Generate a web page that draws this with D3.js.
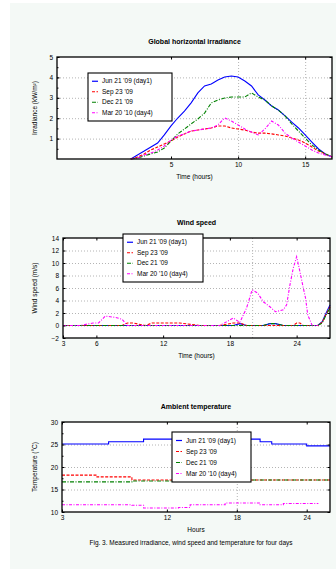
<!DOCTYPE html>
<html>
<head>
<meta charset="utf-8">
<script src="https://cdnjs.cloudflare.com/ajax/libs/d3/7.8.5/d3.min.js"></script>
<style>
  body { margin: 0; background: #fff; }
  text { font-family: "Liberation Sans", Arial, sans-serif; fill: #000; }
  .grid line { stroke: #b4b4b4; stroke-dasharray: 1,2; }
  .grid path { display: none; }
  .axis path { display: none; }
  .axis line { stroke: #000; }
</style>
</head>
<body>
<svg id="chart" width="336" height="578"></svg>
<script>
// legend labels and series styling
const dayLabels = ["Jun 21 '09 (day1)", "Sep 23 '09", "Dec 21 '09", "Mar 20 '10 (day4)"];
const colors = ['#0000ff', '#ff0000', '#008000', '#ff00ff'];
const dashes = [null, '3,1.5', '4,1.5,1,1.5', '3,1.5,1,1.5'];

// panel 1: irradiance
const hours1 = [2, 2.5, 3, 3.5, 4, 4.5, 5, 5.5, 6, 6.5, 7, 7.5, 8, 8.5, 9, 9.5, 10, 10.5, 11, 11.5, 12, 12.5, 13, 13.5, 14, 14.5, 15, 15.5, 16, 16.5, 17];
const irrDay1 = [0, 0.2, 0.39, 0.59, 0.78, 1.18, 1.62, 2.01, 2.35, 2.75, 3.24, 3.58, 3.68, 3.87, 4.02, 4.07, 4.02, 3.82, 3.58, 3.14, 2.89, 2.6, 2.4, 2.11, 1.81, 1.52, 1.18, 0.83, 0.49, 0.25, 0.1];
const irrDay2 = [0, 0.1, 0.25, 0.44, 0.59, 0.74, 0.88, 1.08, 1.23, 1.37, 1.42, 1.47, 1.52, 1.62, 1.62, 1.52, 1.47, 1.42, 1.32, 1.27, 1.27, 1.23, 1.18, 1.13, 1.03, 0.93, 0.78, 0.59, 0.39, 0.25, 0.1];
const irrDay3 = [0, 0.05, 0.15, 0.25, 0.34, 0.54, 0.88, 1.23, 1.47, 1.72, 1.96, 2.25, 2.75, 2.89, 2.99, 3.04, 3.04, 3.04, 3.24, 3.04, 2.89, 2.6, 2.4, 2.11, 1.72, 1.37, 1.03, 0.69, 0.44, 0.25, 0.1];
const irrDay4 = [0, 0.05, 0.2, 0.29, 0.44, 0.64, 0.93, 1.13, 1.23, 1.37, 1.42, 1.47, 1.52, 1.67, 2.01, 1.86, 1.67, 1.47, 1.32, 1.18, 1.47, 1.86, 1.67, 1.27, 1.03, 0.83, 0.64, 0.44, 0.29, 0.2, 0.1];

// panel 2: wind speed
const hours2 = [3, 4.5, 5.7, 6.2, 6.8, 7.7, 8.3, 8.8, 9.3, 10.4, 11, 12.2, 13.5, 15.3, 17.1, 18.3, 18.9, 19.5, 20, 20.5, 21, 21.6, 22.1, 22.8, 23.1, 23.4, 23.7, 24, 24.3, 24.6, 24.8, 25, 25.4, 25.9, 26.3, 26.6, 27];
const windDay1 = [0, 0, 0, 0, 0, 0, 0, 0, 0, 0, 0, 0, 0, 0, 0, 0, 0.3, 0, 0, 0, 0, 0.3, 0.3, 0, 0, 0, 0, 0, 0, 0, 0, 0, 0, 0, 0.6, 1.8, 3.3];
const windDay2 = [0, 0, 0, 0, 0, 0, 0, 0.4, 0.4, 0, 0.4, 0.4, 0.4, 0, 0, 0.4, 0.4, 0, 0, 0, 0, 0, 0, 0, 0, 0, 0, 0.4, 0.4, 0, 0, 0, 0, 0, 0.5, 1.6, 3.0];
const windDay3 = [0, 0, 0, 0, 0, 0, 0, 0, 0, 0, 0, 0, 0, 0, 0, 0, 0, 0, 0, 0, 0, 0.3, 0.3, 0, 0, 0, 0, 0, 0, 0, 0, 0, 0, 0, 0.4, 1.5, 2.8];
const windDay4 = [0, 0, 0.4, 0.4, 1.5, 1.3, 1.0, 0, 0, 0, 0, 0, 0, 0, 0, 1.2, 0.5, 2.8, 5.7, 5.2, 3.8, 3.0, 2.2, 2.5, 3.3, 6.5, 9.2, 11, 8.6, 6.0, 4.4, 1.7, 0, 0, null, null, null];

// panel 3: temperature
const hours3 = [3, 4, 5, 6, 7, 8, 9, 10, 11, 12, 13, 14, 15, 16, 17, 18, 19, 20, 21, 22, 23, 24, 25, 26];
const tempDay1 = [25.1, 25.1, 25.1, 25.1, 25.6, 25.6, 25.6, 26.2, 26.2, 26.2, 26.4, 26.4, 26.4, 26.4, 26.4, 26.2, 26.2, 25.6, 25.1, 25.1, 25.1, 24.7, 24.7, 24.7];
const tempDay2 = [18.2, 18.2, 18.2, 17.8, 17.8, 17.8, 17.1, 17.1, 17.1, 17.1, 17.1, 17.1, 17.1, 17.1, 17.1, 17.1, 17.1, 17.1, 17.1, 17.1, 17.1, 17.1, 17.1, 17.1];
const tempDay3 = [16.7, 16.7, 16.7, 16.7, 16.7, 16.7, 16.9, 16.9, 16.9, 16.9, 16.9, 17.1, 17.1, 17.1, 17.1, 17.1, 17.1, 17.1, 17.1, 17.1, 17.1, 17.1, 17.1, 17.1];
const tempDay4 = [11.6, 11.6, 11.6, 11.6, 11.6, 11.6, 11.5, 10.9, 10.9, 10.9, 11.0, 11.6, 11.6, 11.6, 12.0, 12.0, 12.0, 11.6, 11.6, 11.9, 11.9, 11.9, 11.9, null];

const panels = [
  {
    title: 'Global horizontal irradiance', xLabel: 'Time (hours)', yLabel: 'Irradiance (kW/m\u00b2)',
    box: [57, 57, 332, 159], titleY: 44, yLabelX: 37,
    x: hours1, series: [irrDay1, irrDay2, irrDay3, irrDay4],
    xDomain: [-3.5, 17], xTicks: [5, 10, 15], xGrid: [10, 15],
    yDomain: [0, 5], yTicks: [1, 2, 3, 4, 5], yGrid: [1, 2, 3, 4], yMinor: d3.range(0.5, 5, 0.5),
    curve: d3.curveLinear, legend: [88, 73, 84, 48]
  },
  {
    title: 'Wind speed', xLabel: 'Time (hours)', yLabel: 'Wind speed (m/s)',
    box: [63, 238, 330, 338], titleY: 225, yLabelX: 37,
    x: hours2, series: [windDay1, windDay2, windDay3, windDay4],
    xDomain: [3, 27], xTicks: [3, 6, 12, 18, 24], xGrid: [20],
    yDomain: [-2, 14], yTicks: d3.range(-2, 15, 2), yGrid: d3.range(0, 13, 2), yMinor: [],
    curve: d3.curveLinear, legend: [123, 234, 80, 48]
  },
  {
    title: 'Ambient temperature', xLabel: 'Hours', yLabel: 'Temperature (\u00b0C)',
    box: [62, 422, 330, 512], titleY: 409, yLabelX: 37,
    x: hours3, series: [tempDay1, tempDay2, tempDay3, tempDay4],
    xDomain: [3, 26], xTicks: [3, 12, 18, 24], xGrid: [18],
    yDomain: [10, 30], yTicks: [10, 15, 20, 25, 30], yGrid: [15, 20, 25], yMinor: d3.range(12.5, 30, 5),
    curve: d3.curveStepAfter, legend: [172, 432, 79, 50]
  }
];

const svg = d3.select('#chart');

// figure background
svg.append('rect').attr('x', 10).attr('y', 3).attr('width', 326).attr('height', 566).attr('fill', '#f4f9f6');

function drawPanel(p) {
  const [x0, y0, x1, y1] = p.box;
  const x = d3.scaleLinear().domain(p.xDomain).range([x0, x1]);
  const y = d3.scaleLinear().domain(p.yDomain).range([y1, y0]);
  const g = svg.append('g');

  g.append('rect').attr('x', x0).attr('y', y0).attr('width', x1 - x0).attr('height', y1 - y0).attr('fill', '#fff');

  // dotted grid
  g.append('g').attr('class', 'grid').attr('transform', `translate(0,${y1})`)
    .call(d3.axisBottom(x).tickValues(p.xGrid).tickSize(-(y1 - y0)).tickFormat(''));
  g.append('g').attr('class', 'grid').attr('transform', `translate(${x0},0)`)
    .call(d3.axisLeft(y).tickValues(p.yGrid).tickSize(-(x1 - x0)).tickFormat(''));

  const line = d3.line()
    .defined(d => d[1] != null)
    .x(d => x(d[0]))
    .y(d => y(d[1]))
    .curve(p.curve);

  p.series.forEach((vals, i) => {
    g.append('path')
      .datum(p.x.map((t, j) => [t, vals[j]]))
      .attr('fill', 'none')
      .attr('stroke', colors[i])
      .attr('stroke-width', 1.1)
      .attr('stroke-dasharray', dashes[i])
      .attr('d', line);
  });

  // axes, ticks pointing inward
  const fs = '6.5px';
  g.append('g').attr('class', 'axis').attr('transform', `translate(0,${y1})`)
    .call(d3.axisBottom(x).tickValues(p.xTicks).tickSizeInner(-2.5).tickSizeOuter(0).tickPadding(3).tickFormat(d3.format('d')))
    .selectAll('text').style('font-size', fs);
  g.append('g').attr('class', 'axis').attr('transform', `translate(0,${y0})`)
    .call(d3.axisTop(x).tickValues(p.xTicks).tickSizeInner(-2.5).tickSizeOuter(0).tickFormat(''));
  g.append('g').attr('class', 'axis').attr('transform', `translate(${x0},0)`)
    .call(d3.axisLeft(y).tickValues(p.yTicks).tickSizeInner(-2.5).tickSizeOuter(0).tickPadding(4).tickFormat(d3.format('d')))
    .selectAll('text').style('font-size', fs);
  g.append('g').attr('class', 'axis').attr('transform', `translate(${x0},0)`)
    .call(d3.axisLeft(y).tickValues(p.yMinor).tickSizeInner(-1.5).tickSizeOuter(0).tickFormat(''));
  g.append('g').attr('class', 'axis').attr('transform', `translate(${x1},0)`)
    .call(d3.axisRight(y).tickValues(p.yTicks).tickSizeInner(-2.5).tickSizeOuter(0).tickFormat(''));

  g.append('rect').attr('x', x0).attr('y', y0).attr('width', x1 - x0).attr('height', y1 - y0)
    .attr('fill', 'none').attr('stroke', '#000').attr('stroke-width', 1.3);

  // titles
  g.append('text').attr('x', (x0 + x1) / 2).attr('y', p.titleY).attr('text-anchor', 'middle')
    .style('font-size', '7px').style('font-weight', 'bold').text(p.title);
  g.append('text').attr('x', (x0 + x1) / 2).attr('y', y1 + 20).attr('text-anchor', 'middle')
    .style('font-size', '6.5px').text(p.xLabel);
  g.append('text').attr('transform', `translate(${p.yLabelX},${(y0 + y1) / 2}) rotate(-90)`)
    .attr('text-anchor', 'middle').style('font-size', '6.5px').text(p.yLabel);

  // legend
  const [lx, ly, lw, lh] = p.legend;
  const lg = g.append('g');
  lg.append('rect').attr('x', lx).attr('y', ly).attr('width', lw).attr('height', lh)
    .attr('fill', '#fff').attr('stroke', '#000').attr('stroke-width', 1.1);
  const step = (lh - 6) / dayLabels.length;
  dayLabels.forEach((name, i) => {
    const cy = ly + 3 + step * (i + 0.5);
    lg.append('line').attr('x1', lx + 4).attr('x2', lx + 10).attr('y1', cy).attr('y2', cy)
      .attr('stroke', colors[i]).attr('stroke-width', 1.2).attr('stroke-dasharray', dashes[i]);
    lg.append('text').attr('x', lx + 14).attr('y', cy + 2.2).style('font-size', '6.5px').text(name);
  });
}

panels.forEach(drawPanel);

svg.append('text').attr('x', 191).attr('y', 545).attr('text-anchor', 'middle')
  .style('font-size', '6.5px')
  .text('Fig. 3. Measured irradiance, wind speed and temperature for four days');
</script>
</body>
</html>
